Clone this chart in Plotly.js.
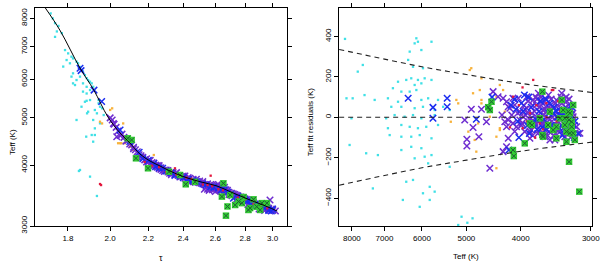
<!DOCTYPE html>
<html><head><meta charset="utf-8">
<script src="https://cdn.plot.ly/plotly-3.0.1.min.js"></script>
<style>html,body{margin:0;padding:0;background:#fff}#chart{width:600px;height:262px}</style>
</head><body><div id="chart"></div>
<script>
// ---------- LEFT PANEL: Teff vs tau ----------
const fitTau  = [1.700,1.764,1.855,1.920,1.989,2.050,2.101,2.154,2.209,2.265,2.322,2.399,2.503,2.611,2.718,2.836,2.959,3.034];
const fitTeff = [8420,7569,6326,5702,5020,4655,4440,4215,4078,3983,3890,3790,3698,3624,3506,3392,3287,3220];

const cyanTau  = [1.724,1.733,1.743,1.758,1.751,1.773,1.743,1.787,1.801,1.816,1.823,1.839,1.846,1.855,1.862,1.869,1.878,1.886,1.893,1.902,1.910,1.917,1.855,1.839,1.823,1.809,1.869,1.886,1.823,1.902,1.869,1.794,1.779,1.886,1.902,1.878,1.893,1.935,1.917,1.950,1.839,1.925,1.910,1.925,1.917,1.855,1.902,1.943,1.960,1.968,1.816,1.832,1.888,1.862,1.884,1.886,1.950,1.925,1.943,1.935,1.850];
const cyanTeff = [8190,7998,7820,7720,7520,7460,7330,6887,6780,6675,6620,6520,6470,6360,6267,6220,6120,6030,5978,5930,5885,5790,6075,5978,6170,6470,5885,5790,5885,5702,5660,6570,6370,5610,5439,5395,5147,5108,4950,4872,4950,4758,4611,4611,4468,3909,3788,5355,5230,5067,6075,5838,5108,5270,4575,5420,5270,5189,5439,3457,3890];

const orangeTau  = [2.000,2.010,2.066,1.950,1.960,2.050,2.075,2.100,2.118,2.040,2.057,2.110,2.154,2.230,2.030,2.090,2.120];
const orangeTeff = [5190,5230,4870,4910,4870,4435,4435,4365,4296,4435,4435,4365,4160,4195,4800,4560,4480];

const redTau  = [2.570,2.351,1.950,1.955,2.180,2.220,2.260,2.300,2.360,2.420,2.470,2.520,2.580,2.620,2.650,2.700,2.750,2.800,2.860,2.910,2.960,2.450,2.550,2.330];
const redTeff = [3805,3940,3658,3640,4060,3990,3960,3870,3820,3770,3720,3650,3620,3570,3550,3490,3430,3400,3330,3300,3260,3750,3640,3890];

const blueTau  = [1.855,1.860,1.921,1.958,2.050,2.100,2.150,2.170,2.200,2.230,2.260,2.300,2.330,2.380,2.430,2.480,2.520,2.570,2.620,2.660,2.700,2.750,2.800,2.850,2.890,2.930,2.970,3.000,2.720,2.840,
                  2.240,2.280,2.350,2.400,2.460,2.540,2.590,2.640,2.680,2.780,2.820,2.870,2.910,2.950,2.990];
const blueTeff = [6320,6250,5700,5400,4720,4470,4250,4120,4090,4030,3950,3890,3860,3800,3740,3700,3660,3610,3590,3560,3480,3450,3390,3350,3310,3280,3230,3250,3420,3310,
                  3970,3940,3810,3770,3720,3640,3600,3560,3520,3420,3380,3320,3290,3300,3220];

const purpleTau  = [2.000,2.010,2.030,2.040,2.033,2.060,2.070,2.090,2.100,2.110,2.120,2.130,2.140,2.150,2.160,2.170,2.180,2.190,2.200,2.210,2.220,2.230,2.240,2.250,2.260,2.270,2.280,2.290,2.300,2.310,2.320,2.340,2.350,2.370,2.380,2.400,2.410,2.420,2.430,2.450,2.460,2.470,2.490,2.500,2.510,2.530,2.540,2.550,2.560,2.570,2.580,2.590,2.600,2.610,2.620,2.630,2.640,2.650,2.660,2.670,2.680,2.690,2.700,2.710,2.720,2.730,2.740,2.750,2.760,2.770,2.780,2.790,2.800,2.810,2.820,2.830,2.840,2.850,2.860,2.870,2.880,2.890,2.900,2.910,2.920,2.930,2.940,2.950,2.960,2.970,2.980,3.000,3.020,2.140,2.220,2.260,2.330,2.440,2.560,2.600,2.620,2.660,2.740,2.820,2.900,2.940,2.016,
                    2.020,2.050,2.080,2.120,2.160,2.190,2.210,2.230,2.250,2.270,2.290,2.310,2.330,2.360,2.390,2.410,2.440,2.460,2.480,2.500,2.520,2.550,2.570,2.590,2.610,2.630,2.650,2.670,2.690,2.710,2.730,2.750,2.770,2.790,2.810,2.830,2.850,2.870,2.890,2.910,2.930,2.950,2.970,2.990,2.530,2.580];
const purpleTeff = [5000,4950,4780,4700,4575,4630,4560,4500,4420,4400,4350,4300,4260,4200,4180,4150,4100,4120,4060,4020,4050,3990,4000,3960,3930,3950,3900,3880,3910,3870,3850,3860,3830,3810,3780,3800,3760,3740,3770,3720,3740,3700,3690,3710,3670,3650,3600,3570,3620,3650,3600,3630,3580,3610,3560,3590,3540,3570,3530,3500,3550,3480,3500,3460,3490,3440,3470,3420,3440,3400,3430,3380,3410,3360,3390,3340,3370,3320,3350,3300,3330,3290,3310,3270,3300,3260,3280,3250,3270,3240,3392,3230,3220,4150,3980,3990,3820,3690,3550,3530,3650,3600,3400,3320,3250,3230,4870,
                    4850,4600,4480,4320,4150,4060,4090,4040,3990,3920,3910,3900,3850,3860,3790,3800,3760,3700,3740,3680,3700,3660,3600,3580,3640,3550,3600,3560,3520,3500,3480,3460,3440,3410,3400,3370,3350,3330,3320,3300,3290,3270,3260,3250,3570,3560];

const greenTau  = [2.090,2.110,2.133,2.198,2.381,2.415,2.472,2.316,2.653,2.643,2.680,2.670,2.698,2.755,2.778,2.836,2.860,2.883,2.920,2.957,2.732,2.824,2.908,2.790];
const greenTeff = [4540,4504,4130,3940,3817,3653,3695,3877,3670,3447,3290,3150,3473,3367,3342,3265,3403,3287,3342,3342,3313,3236,3236,3440];

// ---------- RIGHT PANEL: residuals vs Teff ----------
const cyanT2   = [8230,5770,6183,6140,6100,6310,6015,6350,6225,5975,7650,7810,6620,6400,6270,6100,6183,6015,5934,5770,6760,6530,6310,6140,8180,7975,7596,7286,6900,6620,6015,5850,5617,6805,6530,6183,5975,5695,5500,6713,6443,6225,6015,5695,6950,8015,6900,6530,6310,6100,5895,5617,6851,6530,6270,6056,5770,8076,6270,6015,6530,7545,7190,5934,6183,5770,5850,5354,6400,6225,5812,7340,5695,6490,5812,5975,6056,5100,5170,4875,4980,5354];
const cyanRes  = [388,374,366,391,374,325,333,284,250,243,259,226,176,185,193,185,160,168,193,185,144,127,127,135,94,94,110,86,94,77,86,94,86,52,52,45,52,36,52,11,3,11,-5,11,-5,-5,-54,-38,-47,-54,-47,-38,-88,-96,-96,-88,-104,-137,-146,-153,-162,-178,-187,-195,-203,-187,-228,-245,-319,-310,-344,-352,-368,-409,-409,-376,-443,-492,-533,-500,-522,36];

const orangeT2  = [5210,5170,5330,4931,4700,4358,4420,4270,4960,4832,4700,4541,4420,4800,4358,4732,4300,4900,4865,4700,4358,4420,4765];
const orangeRes = [86,69,-22,234,193,160,102,28,-71,-112,86,3,-252,-170,-63,135,135,243,119,69,-54,-96,-30];

const redT2  = [3800,3520,3500,3967,4130,3850,3700,3600,3550,3450,3750,3650,3500,3900,3400,3800,3600,4030,4180,3680,3350,3430,3770,3970];
const redRes = [185,135,135,-54,102,20,-30,0,40,-20,60,-60,-70,-20,30,-50,70,60,-50,-90,-40,80,-100,148];

const blueT2  = [6350,5735,5735,5410,5410,4200,4100,3990,3890,3830,3760,3710,3660,3610,3560,3530,3490,3440,3400,3370,3330,3300,3260,3230,3200,3160,3940,3860,4030,4500,4800,
                 3960,3870,3800,3740,3690,3640,3600,3550,3500,3460,3420,3380,3340,3310,3270,3240,3210,4080,4160,4050];
const blueRes = [94,49,-5,94,52,-162,90,70,-40,50,-10,30,-50,90,20,-40,50,0,30,-90,-20,40,10,-60,-20,-80,110,-80,-100,100,-10,
                 30,100,-30,-60,80,-10,-60,70,20,30,-50,10,-60,0,-30,50,-100,40,60,-20];

const purpleT2  = [4480,4390,4300,4240,4900,4700,5034,4865,4605,4270,4990,4990,4750,4130,4040,4099,4183,4150,4210,4130,4070,4014,3960,3900,3870,3820,3775,3750,3697,3650,3623,3598,3575,3520,3500,3477,3455,3430,3405,3380,3360,3315,3290,3268,3225,3203,3180,3852,3548,3934,3720,3900,3800,3672,3623,3477,3337,3750,4014,3548,3672,3430,3380,3245,4541,4240,4240,4320,4300,4210,4210,3137,3950,3880,3840,3780,3730,3700,3680,3640,3610,3590,3560,3530,3510,3490,3470,3450,3420,3400,3390,3350,3330,3300,3280,3260,3240,3990,4050,4100,3860,3810,3760,3650,3570,3350,3310,3470,3620,3700,3790,3920,
                   3980,3930,3890,3850,3810,3770,3740,3720,3690,3660,3630,3600,3580,3540,3520,3490,3460,3440,3410,3380,3360,3340,3320,3290,3270,3250,3230,3210];
const purpleRes = [127,102,94,77,40,40,-13,-50,-22,-22,-109,-142,-96,94,94,61,45,11,-13,-30,-47,28,3,45,-22,20,-47,61,-13,36,-63,86,-5,52,-38,11,86,-63,-13,119,28,-30,61,-63,3,-79,-47,-104,-112,-71,119,102,86,77,-96,-112,-96,3,-13,28,-38,-22,69,36,-252,-146,-47,11,-170,52,-104,-79,60,80,-60,30,-80,50,100,10,-30,60,-70,90,0,-90,70,-40,40,-70,100,-50,50,-10,90,-100,-30,-40,20,-70,-10,-90,100,-20,110,0,80,-80,40,-60,-20,10,
                   -30,40,20,-70,60,-30,90,-20,20,70,-40,30,-90,60,-20,20,-60,60,10,-40,-80,20,100,-50,40,-70,20,-40];

const greenT2  = [4510,4541,4570,3660,4130,4115,3934,3660,3697,3455,3315,3280,3145,3380,3360,3405,3268,3245,3225,3203,3337,3500,3575,3315,3280,3225,3290,3337,3245,3650,3268,3820,3548,3455,3852];
const greenRes = [77,36,50,127,-162,-192,-129,-88,-5,-104,-121,-220,-368,86,36,-5,20,-47,-79,-112,-38,-63,-38,-71,-13,61,28,-5,-22,-96,-79,-38,28,-47,-30];

const envT  = [8430,6000,5000,4000,2970];
const envUp = [336,250,212,168,122];
const envLo = [-336,-250,-212,-168,-122];
const zeroT = [8430,2970];
const zeroR = [0,0];

const tauTicks = [1.8,2.0,2.2,2.4,2.6,2.8,3.0];
const tauText  = ['1.8','2.0','2.2','2.4','2.6','2.8','3.0'];
const teffTicksL = [3000,4000,5000,6000,7000,8000];
const teffTicksR = [8000,7000,6000,5000,4000,3000];
const resTicks = [-400,-200,0,200,400];

// ---------- colours / trace builders ----------
const C = {cyan:'#3fe0e6', orange:'#f7b23b', red:'#e3173d', blue:'#1a2cf0', purple:'#6e2cd0', green:'#33cc33', dkgreen:'#1d5e36'};
function dots(x,y,color,xa,ya){return {type:'scatter',mode:'markers',x:x,y:y,xaxis:xa,yaxis:ya,hoverinfo:'skip',
  marker:{symbol:'square',size:2.3,color:color,line:{width:0}}};}
function crosses(x,y,color,xa,ya){return {type:'scatter',mode:'markers',x:x,y:y,xaxis:xa,yaxis:ya,hoverinfo:'skip',
  marker:{symbol:'x-thin-open',size:6.5,color:color,line:{width:1.5,color:color}}};}
function squares(x,y,xa,ya){return [
  {type:'scatter',mode:'markers',x:x,y:y,xaxis:xa,yaxis:ya,hoverinfo:'skip',marker:{symbol:'square',size:6.5,color:C.green,line:{width:0}}},
  {type:'scatter',mode:'markers',x:x,y:y,xaxis:xa,yaxis:ya,hoverinfo:'skip',marker:{symbol:'x-thin-open',size:5,color:C.dkgreen,line:{width:1,color:C.dkgreen}}}];}

const traces = [
  dots(cyanTau,cyanTeff,C.cyan,'x','y'),
  dots(orangeTau,orangeTeff,C.orange,'x','y'),
  crosses(purpleTau,purpleTeff,C.purple,'x','y'),
  crosses(blueTau,blueTeff,C.blue,'x','y'),
  dots(redTau,redTeff,C.red,'x','y'),
  ...squares(greenTau,greenTeff,'x','y'),
  {type:'scatter',mode:'lines',x:fitTau,y:fitTeff,xaxis:'x',yaxis:'y',line:{color:'#000',width:1,shape:'spline'},hoverinfo:'skip'},

  dots(cyanT2,cyanRes,C.cyan,'x2','y2'),
  dots(orangeT2,orangeRes,C.orange,'x2','y2'),
  crosses(purpleT2,purpleRes,C.purple,'x2','y2'),
  crosses(blueT2,blueRes,C.blue,'x2','y2'),
  dots(redT2,redRes,C.red,'x2','y2'),
  ...squares(greenT2,greenRes,'x2','y2'),
  {type:'scatter',mode:'lines',x:envT,y:envUp,xaxis:'x2',yaxis:'y2',line:{color:'#222',width:1.1,dash:'5px,4px',shape:'spline'},hoverinfo:'skip'},
  {type:'scatter',mode:'lines',x:envT,y:envLo,xaxis:'x2',yaxis:'y2',line:{color:'#222',width:1.1,dash:'5px,4px',shape:'spline'},hoverinfo:'skip'},
  {type:'scatter',mode:'lines',x:zeroT,y:zeroR,xaxis:'x2',yaxis:'y2',line:{color:'#222',width:1.1,dash:'5px,4px'},hoverinfo:'skip'}
];

const axBase = {showline:true,linecolor:'#000',linewidth:1,mirror:'ticks',ticks:'outside',ticklen:4,tickwidth:1,tickcolor:'#000',
  showgrid:false,zeroline:false,ticklabeloverflow:'allow',tickfont:{size:8,color:'#000'}};

const layout = {
  width:600,height:262,margin:{l:35,r:8,t:8,b:36},paper_bgcolor:'#fff',plot_bgcolor:'#fff',showlegend:false,
  font:{family:'Liberation Sans, Arial, sans-serif',size:8,color:'#000'},
  xaxis:Object.assign({},axBase,{type:'log',domain:[0,0.4524],range:[Math.log10(1.658),Math.log10(3.109)],tickmode:'array',tickvals:tauTicks,ticktext:tauText,anchor:'y'}),
  yaxis:Object.assign({},axBase,{type:'log',range:[Math.log10(3000),Math.log10(8401)],tickmode:'array',tickvals:teffTicksL,ticktext:teffTicksL.map(String),tickangle:-90,anchor:'x'}),
  xaxis2:Object.assign({},axBase,{type:'log',domain:[0.5458,1],range:[Math.log10(8435),Math.log10(2985)],tickmode:'array',tickvals:teffTicksR,ticktext:teffTicksR.map(String),anchor:'y2'}),
  yaxis2:Object.assign({},axBase,{range:[-538,541],tickmode:'array',tickvals:resTicks,ticktext:resTicks.map(v=>v<0?'\u2212'+(-v):String(v)),tickangle:-90,anchor:'x2'}),
  annotations:[
    {text:'\u03c4',xref:'paper',yref:'paper',x:0.2262,y:-0.145,showarrow:false,xanchor:'center',yanchor:'middle',font:{size:9}},
    {text:'Teff (K)',xref:'paper',yref:'paper',x:0.7738,y:-0.14,showarrow:false,xanchor:'center',yanchor:'middle',font:{size:8}},
    {text:'Teff (K)',xref:'paper',yref:'paper',x:-0.0413,y:0.385,showarrow:false,textangle:-90,xanchor:'center',yanchor:'middle',font:{size:8}},
    {text:'Teff fit residuals (K)',xref:'paper',yref:'paper',x:0.4937,y:0.48,showarrow:false,textangle:-90,xanchor:'center',yanchor:'middle',font:{size:8}}
  ]
};
Plotly.newPlot('chart',traces,layout,{staticPlot:true,displayModeBar:false});
</script></body></html>
